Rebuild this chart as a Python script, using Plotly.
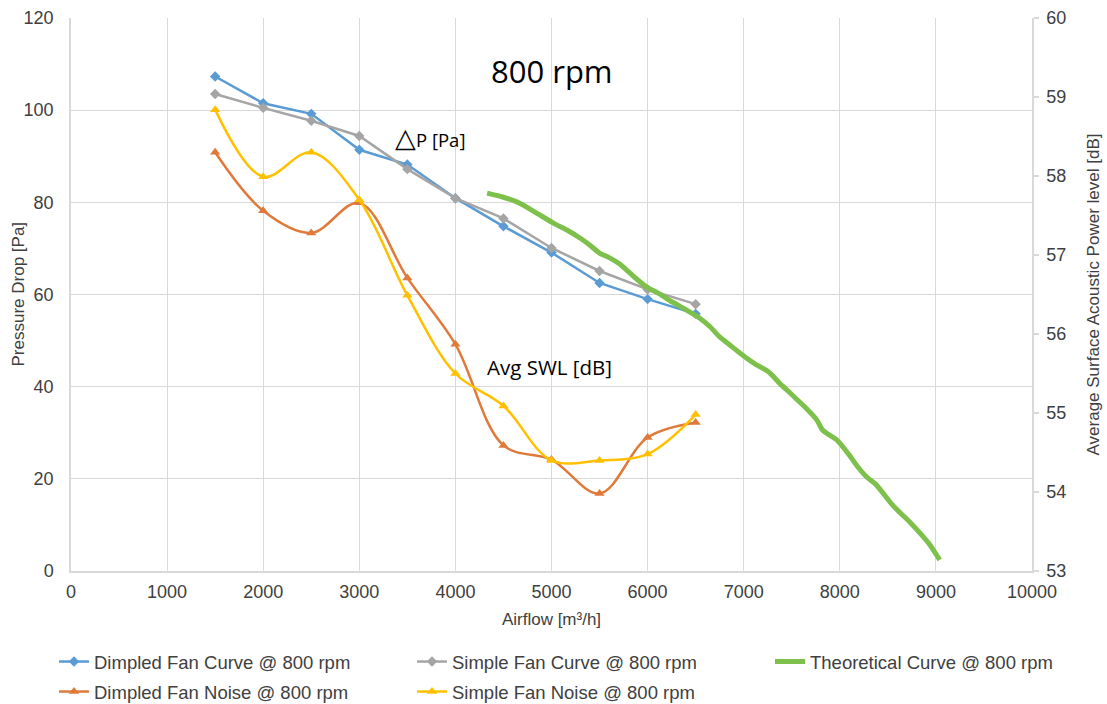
import plotly.graph_objects as go

# Airflow sample points [m³/h]
airflow = [1500, 2000, 2500, 3000, 3500, 4000, 4500, 5000, 5500, 6000, 6500]

# Pressure drop [Pa]
dimpled_curve = [107.3, 101.5, 99.2, 91.4, 88.2, 80.9, 74.8, 69.1, 62.5, 59.0, 55.8]
simple_curve = [103.5, 100.5, 97.7, 94.4, 87.2, 80.9, 76.5, 70.1, 65.1, 61.1, 57.9]

# Average surface acoustic power level [dB]
dimpled_noise = [58.30, 57.56, 57.28, 57.66, 56.71, 55.87, 54.59, 54.41, 53.98, 54.69, 54.88]
simple_noise = [58.84, 57.99, 58.30, 57.70, 56.49, 55.50, 55.09, 54.40, 54.40, 54.48, 54.98]

# Theoretical fan curve
theory_airflow = [4330, 4500, 4670, 4850, 5020, 5160, 5300, 5400, 5500, 5610, 5710, 5850,
                  5990, 6110, 6230, 6390, 6540, 6650, 6750, 6870, 6990, 7120, 7240, 7300,
                  7380, 7470, 7560, 7660, 7760, 7820, 7870, 7960, 8030, 8100, 8180, 8280,
                  8370, 8450, 8540, 8630, 8730, 8840, 8940, 9040]
theory_pressure = [82.0, 81.1, 79.8, 77.6, 75.5, 74.0, 72.2, 70.7, 69.0, 67.9, 66.6, 64.0,
                   61.6, 60.3, 58.7, 56.8, 54.9, 53.0, 50.8, 48.8, 46.8, 44.9, 43.5, 42.4,
                   40.6, 38.9, 37.1, 35.1, 32.8, 30.6, 29.8, 28.6, 27.0, 25.1, 22.8, 20.4,
                   18.9, 16.9, 14.5, 12.6, 10.6, 8.1, 5.6, 2.4]

x_ticks = [0, 1000, 2000, 3000, 4000, 5000, 6000, 7000, 8000, 9000, 10000]

BLUE = "#5B9BD5"
GRAY = "#A5A5A5"
ORANGE = "#E07A3B"
YELLOW = "#FFC000"
GREEN = "#7DC04B"
GRID = "#D9D9D9"
TEXT = "#404040"
W, H = 1107, 704
LEGEND_FONT = dict(family="Liberation Sans, Arial, sans-serif", size=18.5, color=TEXT)

fig = go.Figure()

fig.add_trace(go.Scatter(
    x=airflow, y=dimpled_curve, name="Dimpled Fan Curve @ 800 rpm",
    mode="lines+markers", line=dict(color=BLUE, width=2.5),
    marker=dict(symbol="diamond", size=8, color=BLUE), legend="legend"))
fig.add_trace(go.Scatter(
    x=airflow, y=simple_curve, name="Simple Fan Curve @ 800 rpm",
    mode="lines+markers", line=dict(color=GRAY, width=2.5),
    marker=dict(symbol="diamond", size=8, color=GRAY), legend="legend2"))
fig.add_trace(go.Scatter(
    x=theory_airflow, y=theory_pressure, name="Theoretical Curve @ 800 rpm",
    mode="lines", line=dict(color=GREEN, width=5, shape="spline", smoothing=0.6),
    legend="legend3"))
fig.add_trace(go.Scatter(
    x=airflow, y=dimpled_noise, name="Dimpled Fan Noise @ 800 rpm", yaxis="y2",
    mode="lines+markers", line=dict(color=ORANGE, width=2.5, shape="spline", smoothing=1),
    marker=dict(symbol="triangle-up", size=9, color=ORANGE), legend="legend4"))
fig.add_trace(go.Scatter(
    x=airflow, y=simple_noise, name="Simple Fan Noise @ 800 rpm", yaxis="y2",
    mode="lines+markers", line=dict(color=YELLOW, width=2.5, shape="spline", smoothing=1),
    marker=dict(symbol="triangle-up", size=9, color=YELLOW), legend="legend5"))

# one legend box per entry, laid out as a 3 + 2 grid below the axis (container coords)
row1, row2 = 1 - 662 / H, 1 - 692 / H
col1, col2, col3 = 54 / W, 412 / W, 770 / W
legend_common = dict(orientation="h", xanchor="left", yanchor="middle",
                     xref="container", yref="container",
                     bgcolor="rgba(0,0,0,0)", font=LEGEND_FONT, itemwidth=30)
fig.update_layout(
    legend=dict(x=col1, y=row1, **legend_common),
    legend2=dict(x=col2, y=row1, **legend_common),
    legend3=dict(x=col3, y=row1, **legend_common),
    legend4=dict(x=col1, y=row2, **legend_common),
    legend5=dict(x=col2, y=row2, **legend_common),
)

fig.update_layout(
    width=W, height=H,
    margin=dict(l=71, r=75, t=18, b=133, autoexpand=False),
    paper_bgcolor="white", plot_bgcolor="white",
    showlegend=True,
    font=dict(family="Liberation Sans, Arial, sans-serif", color=TEXT),
    xaxis=dict(
        range=[0, 10000], tickvals=x_ticks, ticktext=[str(v) for v in x_ticks],
        showgrid=True, gridcolor=GRID, gridwidth=1, automargin=False,
        showline=True, linecolor=GRID, linewidth=1.5, zeroline=False,
        ticks="", tickfont=dict(size=18, color=TEXT), ticklabelstandoff=4,
        title=dict(text="Airflow [m³/h]", font=dict(size=17, color=TEXT), standoff=12),
    ),
    yaxis=dict(
        range=[0, 120], dtick=20, tick0=0, automargin=False,
        showgrid=True, gridcolor=GRID, gridwidth=1,
        showline=True, linecolor=GRID, linewidth=1.5, zeroline=False,
        ticks="", tickfont=dict(size=18, color=TEXT), ticklabelstandoff=12,
    ),
    yaxis2=dict(
        range=[53, 60], dtick=1, tick0=53, overlaying="y", side="right", automargin=False,
        showgrid=False, showline=True, linecolor=GRID, linewidth=1.5, zeroline=False,
        ticks="outside", ticklen=5, tickcolor=GRID, tickwidth=1.5,
        tickfont=dict(size=18, color=TEXT), ticklabelstandoff=4,
        title=dict(text="Average Surface Acoustic Power level [dB]",
                   font=dict(size=17, color=TEXT), standoff=22),
    ),
)

# left axis title placed beside the tick labels
fig.add_annotation(x=18, y=0.5, xref="paper", yref="paper", text="Pressure Drop [Pa]",
                   textangle=-90, showarrow=False, xanchor="center", yanchor="middle",
                   font=dict(size=17, color=TEXT))
fig.layout.annotations[0].update(x=(18 - 71) / (W - 71 - 75))

note_font = "Open Sans, Noto Sans, sans-serif"
fig.add_annotation(x=5010, y=108.6, xref="x", yref="y", text="800 rpm", showarrow=False,
                   font=dict(family=note_font, size=31, color="black"))
fig.add_annotation(x=3735, y=94.2, xref="x", yref="y",
                   text="<span style='font-size:27px'>△</span>P [Pa]", showarrow=False,
                   font=dict(family=note_font, size=18.5, color="black"))
fig.add_annotation(x=4975, y=44.2, xref="x", yref="y", text="Avg SWL [dB]", showarrow=False,
                   font=dict(family=note_font, size=20.5, color="black"))

fig.write_html("out.html")
